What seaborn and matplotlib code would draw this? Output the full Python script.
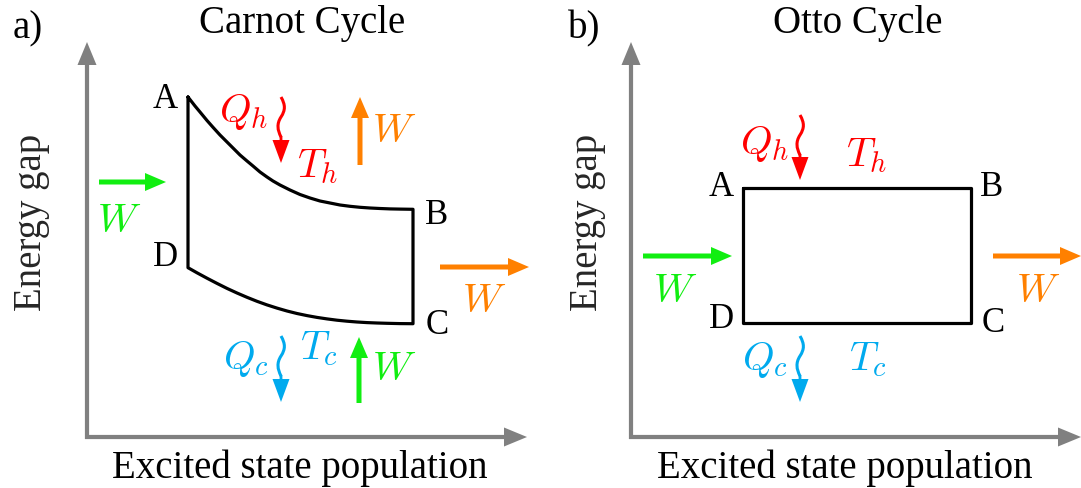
import matplotlib
matplotlib.use("Agg")
import matplotlib.pyplot as plt
import pandas as pd
import seaborn as sns
from matplotlib.path import Path
from matplotlib.patches import PathPatch

sns.set_theme(style="white")
plt.rcParams["font.family"] = ["Liberation Serif", "DejaVu Serif"]
plt.rcParams["mathtext.fontset"] = "cm"

# diagram units: origin at the corner of the gray axes, 1 unit = 100 px
# Carnot cycle
carnot_top_x = [1.01, 1.08, 1.13, 1.20, 1.26, 1.33, 1.40, 1.46, 1.53, 1.60, 1.66, 1.73, 1.80, 1.86,
                1.93, 2.03, 2.13, 2.23, 2.33, 2.43, 2.53, 2.63, 2.73, 2.83, 2.93, 3.03, 3.13, 3.26]
carnot_top_y = [3.400, 3.310, 3.250, 3.165, 3.097, 3.020, 2.950, 2.890, 2.820, 2.760, 2.710, 2.650,
                2.600, 2.560, 2.520, 2.470, 2.425, 2.390, 2.360, 2.340, 2.320, 2.307, 2.297, 2.290,
                2.285, 2.281, 2.279, 2.277]
carnot_bot_x = [1.01, 1.10, 1.20, 1.30, 1.40, 1.50, 1.60, 1.70, 1.80, 1.90, 2.00, 2.10, 2.20, 2.30,
                2.40, 2.50, 2.60, 2.70, 2.80, 2.90, 3.00, 3.13, 3.26]
carnot_bot_y = [1.693, 1.642, 1.588, 1.536, 1.486, 1.440, 1.397, 1.357, 1.321, 1.289, 1.260, 1.235,
                1.214, 1.196, 1.181, 1.168, 1.158, 1.150, 1.144, 1.140, 1.137, 1.134, 1.133]
carnot_labels = ["A", "B", "C", "D"]
carnot_label_x = [0.78, 3.50, 3.50, 0.78]
carnot_label_y = [3.37, 2.22, 1.12, 1.80]

# Otto cycle corners A, B, C, D
otto_labels = ["A", "B", "C", "D"]
otto_x = [1.12, 3.40, 3.40, 1.12]
otto_y = [2.49, 2.49, 1.14, 1.14]
otto_label_x = [0.90, 3.61, 3.62, 0.90]
otto_label_y = [2.49, 2.49, 1.14, 1.17]

titles = ["Carnot Cycle", "Otto Cycle"]
panel_tags = ["a)", "b)"]
x_axis_label = "Excited state population"
y_axis_label = "Energy gap"

RED = "#ff0000"
ORANGE = "#ff8000"
GREEN = "#11ee11"
CYAN = "#00aaee"
GRAY = "#808080"
MATH_SIZE = 29

W_PX, H_PX = 1081, 488
fig = plt.figure(figsize=(W_PX / 100, H_PX / 100), dpi=100)


def make_panel(px_left, px_right, origin_px):
    ax = fig.add_axes([px_left / W_PX, 0, (px_right - px_left) / W_PX, 1])
    ax.set_xlim((px_left - origin_px) / 100, (px_right - origin_px) / 100)
    ax.set_ylim((437 - H_PX) / 100, 437 / 100)
    ax.set_axis_off()
    return ax


def straight_arrow(ax, x0, y0, x1, y1, color, width=0.05, hw=0.18, hl=0.21):
    ax.arrow(x0, y0, x1 - x0, y1 - y0, width=width, head_width=hw, head_length=hl,
             length_includes_head=True, color=color, lw=0)


def wavy_arrow(ax, x, y_top, y_tip, color):
    verts = [(x, y_top),
             (x + 0.045, y_top - 0.08), (x + 0.045, y_top - 0.13), (x, y_top - 0.20),
             (x - 0.045, y_top - 0.27), (x - 0.035, y_top - 0.33), (x, y_top - 0.40)]
    codes = [Path.MOVETO] + [Path.CURVE4] * 6
    ax.add_patch(PathPatch(Path(verts, codes), fill=False, edgecolor=color, lw=2.2))
    straight_arrow(ax, x, y_top - 0.39, x, y_tip, color, width=0.028, hw=0.17, hl=0.23)


def gray_axes(ax, x_tip, y_tip):
    straight_arrow(ax, -0.02, 0, x_tip, 0, GRAY, width=0.042, hw=0.19, hl=0.23)
    straight_arrow(ax, 0, -0.02, 0, y_tip, GRAY, width=0.042, hw=0.19, hl=0.23)


def label(ax, x, y, s, size=25, color="black"):
    ax.text(x, y, s, fontsize=size, color=color, ha="center", va="center")


# ---- a) Carnot ----
ax1 = make_panel(0, 540, 87)
gray_axes(ax1, 4.40, 3.95)
loop = pd.DataFrame({
    "x": carnot_top_x + carnot_bot_x[::-1] + carnot_top_x[:1],
    "y": carnot_top_y + carnot_bot_y[::-1] + carnot_top_y[:1],
})
sns.lineplot(data=loop, x="x", y="y", sort=False, estimator=None, color="black",
             lw=2.3, ax=ax1)
ax1.set_axis_off()
for s, lx, ly in zip(carnot_labels, carnot_label_x, carnot_label_y):
    label(ax1, lx, ly, s, size=25)

straight_arrow(ax1, 0.12, 2.55, 0.79, 2.55, GREEN)
label(ax1, 0.32, 2.14, "$W$", MATH_SIZE, GREEN)
straight_arrow(ax1, 2.73, 2.72, 2.73, 3.40, ORANGE)
label(ax1, 3.07, 3.05, "$W$", MATH_SIZE, ORANGE)
wavy_arrow(ax1, 1.94, 3.40, 2.74, RED)
label(ax1, 1.57, 3.25, "$Q_h$", MATH_SIZE, RED)
label(ax1, 2.31, 2.70, "$T_h$", MATH_SIZE, RED)
straight_arrow(ax1, 3.53, 1.70, 4.42, 1.70, ORANGE)
label(ax1, 3.97, 1.35, "$W$", MATH_SIZE, ORANGE)
wavy_arrow(ax1, 1.94, 1.01, 0.35, CYAN)
label(ax1, 1.59, 0.78, "$Q_c$", MATH_SIZE, CYAN)
label(ax1, 2.32, 0.88, "$T_c$", MATH_SIZE, CYAN)
straight_arrow(ax1, 2.72, 0.34, 2.72, 1.00, GREEN)
label(ax1, 3.07, 0.67, "$W$", MATH_SIZE, GREEN)

label(ax1, 2.15, 4.13, titles[0], 28)
label(ax1, -0.59, 4.08, panel_tags[0], 28)
label(ax1, 2.13, -0.31, x_axis_label, 28)
ax1.text(-0.55, 2.15, y_axis_label, fontsize=28, rotation=90, ha="center", va="center")

# ---- b) Otto ----
ax2 = make_panel(540, W_PX, 631)
gray_axes(ax2, 4.50, 3.95)
rect = pd.DataFrame({"x": otto_x + otto_x[:1], "y": otto_y + otto_y[:1]})
sns.lineplot(data=rect, x="x", y="y", sort=False, estimator=None, color="black",
             lw=2.3, ax=ax2)
ax2.set_axis_off()
for s, lx, ly in zip(otto_labels, otto_label_x, otto_label_y):
    label(ax2, lx, ly, s, size=25)

wavy_arrow(ax2, 1.69, 3.22, 2.57, RED)
label(ax2, 1.34, 2.93, "$Q_h$", MATH_SIZE, RED)
label(ax2, 2.36, 2.81, "$T_h$", MATH_SIZE, RED)
straight_arrow(ax2, 0.12, 1.81, 1.01, 1.81, GREEN)
label(ax2, 0.44, 1.44, "$W$", MATH_SIZE, GREEN)
straight_arrow(ax2, 3.62, 1.81, 4.50, 1.81, ORANGE)
label(ax2, 4.07, 1.44, "$W$", MATH_SIZE, ORANGE)
wavy_arrow(ax2, 1.69, 1.01, 0.35, CYAN)
label(ax2, 1.34, 0.77, "$Q_c$", MATH_SIZE, CYAN)
label(ax2, 2.37, 0.77, "$T_c$", MATH_SIZE, CYAN)

label(ax2, 2.27, 4.13, titles[1], 28)
label(ax2, -0.47, 4.08, panel_tags[1], 28)
label(ax2, 2.14, -0.31, x_axis_label, 28)
ax2.text(-0.43, 2.15, y_axis_label, fontsize=28, rotation=90, ha="center", va="center")

fig.savefig("out.png", dpi=100)
